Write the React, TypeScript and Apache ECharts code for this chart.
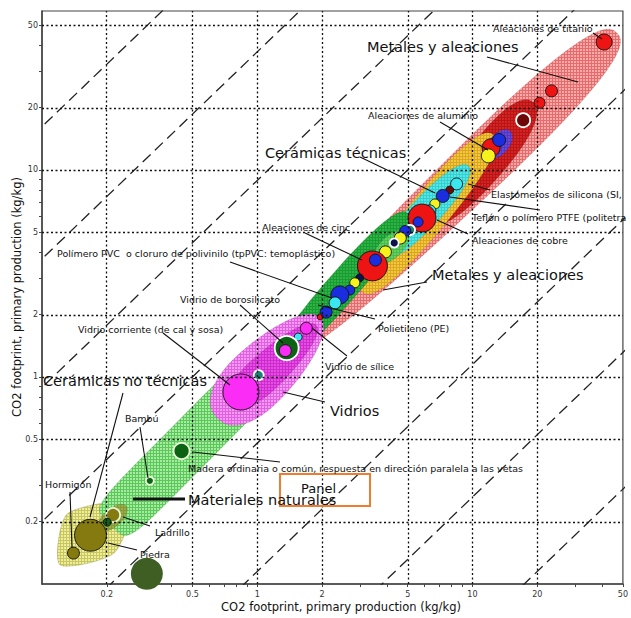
import React, { useEffect, useRef } from "react";
import * as echarts from "echarts";

const L = (v: number) => Math.log10(v);

// ---------- axes ----------
const X_MIN = 0.1;
const X_MAX = 50;
const Y_MIN = 0.1;
const Y_MAX = 58.6;
const majorTicks = [0.2, 0.5, 1, 2, 5, 10, 20, 50];
const minorTicks = [0.3, 0.4, 0.6, 0.7, 0.8, 0.9, 3, 4, 6, 7, 8, 9, 30, 40];
const gridLinesX = [0.2, 0.5, 1, 2, 5, 10, 20];
const gridLinesY = [0.2, 0.5, 1, 2, 5, 10, 20, 50];
// guide lines y = ratio * x
const guideRatios = [162, 37.2, 8.9, 2.0, 0.479, 0.115, 0.0263, 0.00575];

// ---------- bubbles (material data points) ----------
const bubbleX = [40.9, 23.3, 20.5, 17.2, 12.2, 13.3, 11.85, 8.44, 7.84, 7.28, 6.69, 6.34, 5.83, 5.59, 5.13, 4.87, 4.62, 4.33, 3.94, 3.43, 3.54, 2.99, 2.84, 2.69, 2.42, 2.30, 2.09, 1.96, 1.69, 1.55, 1.37, 1.35, 1.016, 0.840, 0.445, 0.317, 0.214, 0.201, 0.168, 0.140, 0.307];
const bubbleY = [41.5, 24.1, 21.1, 17.4, 12.8, 13.96, 11.7, 8.56, 8.0, 7.49, 6.85, 6.34, 5.86, 5.61, 5.13, 5.07, 4.69, 4.44, 4.02, 3.44, 3.67, 3.01, 2.85, 2.63, 2.49, 2.28, 2.06, 1.95, 1.72, 1.56, 1.38, 1.34, 1.02, 0.846, 0.439, 0.315, 0.2155, 0.199, 0.172, 0.141, 0.112];
const bubbleR = [8, 6, 5.5, 7, 9, 6.5, 7, 6, 4, 6.5, 5, 6, 14, 5, 5, 5.5, 6, 4.5, 6, 15, 6, 4, 5, 5, 9, 6, 6, 3, 6, 4, 12, 6, 5, 18, 8, 4, 7, 4, 16, 6, 16];
const bubbleKind = ["red", "red", "red", "darkred", "red", "blue", "yellow", "cyan", "darkred", "blue", "yellow", "cyan", "red", "blue", "teal", "blue", "yellow", "navy", "yellow", "red", "blue", "navy", "yellow", "blue", "blue", "cyan", "blue", "red", "magenta", "cyan", "darkgreen", "magenta", "teal", "magenta", "darkgreen", "darkgreen", "olive", "darkgreen", "olive", "olive", "stone"];
const bubbleRing = [0, 0, 0, 1, 0, 0, 0, 0, 0, 0, 0, 0, 0, 0, 1, 0, 0, 1, 0, 0, 0, 0, 0, 0, 0, 0, 0, 0, 0, 0, 1, 0, 1, 0, 2, 2, 2, 0, 0, 0, 3];

// ---------- envelopes (material families) ----------
const envNames = ["Metales", "Aleaciones alto CO2", "Metales no férreos", "Aluminio", "Cerámicas técnicas", "Polímeros", "Polímeros (núcleo)", "Materiales naturales", "Ladrillo", "Vidrios", "Vidrios (núcleo)"];
const envX1 = [1.40, 6.83, 3.09, 11.85, 3.82, 1.26, 3.54, 0.2076, 0.183, 0.651, 0.755];
const envY1 = [1.35, 5.61, 2.57, 11.56, 3.76, 1.21, 3.59, 0.193, 0.182, 0.634, 0.732];
const envX2 = [46.9, 19.08, 12.5, 14.95, 9.59, 4.97, 4.97, 1.094, 0.246, 1.96, 1.88];
const envY2 = [45.9, 21.3, 14.8, 15.43, 10.45, 6.20, 5.02, 1.105, 0.238, 1.93, 1.78];
const envHalfWidth = [0.127, 0.095, 0.094, 0.047, 0.071, 0.075, 0.052, 0.118, 0.042, 0.142, 0.085];

// Cerámicas no técnicas envelope (vertices)
const ceramX = [0.121, 0.131, 0.257, 0.216];
const ceramY = [0.124, 0.218, 0.244, 0.141];

// ---------- styles ----------
const envRound = [2.6, 2.2, 2.4, 2.0, 2.2, 2.4, 2.0, 6, 2.0, 2.2, 2.2];
const envTaper = [0.15, 0.15, 0, 0, 0, 0, 0, 0, 0, -0.2, -0.2];
const envBase = ["#f6abab", "#d42424", "#f2c93a", "#6a48d8", "#56e6e6", "#2cb445", "#62d062", "#a6eba0", "#9aae44", "#f59af5", "#e64ee6"];
const envHatch = ["#e86a6a", "#b81616", "#dba623", "#5436c0", "#36cfcf", "#1b9a34", "#4cbc4c", "#5cc85c", "#86983a", "#e060e0", "#cc2ccc"];
const kindColor: Record<string, string> = {
  red: "#ee1414", blue: "#1a2ee0", yellow: "#f6f21e", cyan: "#3ae6f0", darkred: "#6e0808",
  navy: "#0c1450", teal: "#1d7f74", magenta: "#fb2cf5", darkgreen: "#0d6314", olive: "#857a10", stone: "#3f5e24",
};

// ---------- annotations ----------
const smallLabels = ["Aleaciones de titanio", "Aleaciones de aluminio", "Elastómeros de silicona (SI,", "Teflón o polímero PTFE (politetra", "Aleaciones de cobre", "Aleaciones de cinc", "Polímero PVC  o cloruro de polivinilo (tpPVC: temoplástico)", "Vidrio de borosilicato", "Vidrio corriente (de cal y sosa)", "Polietileno (PE)", "Vidrio de sílice", "Bambú", "Hormigón", "Madera ordinaria o común, respuesta en dirección paralela a las vetas", "Ladrillo", "Piedra"];
const smallLabelPos = [[493, 28], [368, 115], [491, 194], [472, 217], [472, 240], [262, 227], [57, 253], [180, 299], [78, 329], [378, 328], [325, 366], [125, 418], [45, 484], [188, 468], [155, 532], [140, 554]];
const bigLabels = ["Metales y aleaciones", "Cerámicas técnicas", "Metales y aleaciones", "Cerámicas no técnicas", "Vidrios", "Panel", "Materiales naturales"];
const bigLabelPos = [[367, 47], [265, 153], [432, 275], [43, 381], [330, 411], [301, 488], [188, 500]];
const leaderLines = [[593, 33, 602, 39], [487, 57, 578, 82], [440, 122, 488, 150], [360, 157, 435, 193], [468, 184, 490, 190], [450, 197, 540, 210], [437, 220, 468, 234], [305, 233, 362, 260], [230, 262, 332, 298], [427, 282, 383, 290], [240, 305, 283, 343], [163, 333, 230, 385], [123, 393, 90, 517], [283, 392, 325, 402], [318, 305, 375, 319], [312, 328, 347, 356], [193, 452, 280, 462], [140, 427, 148, 478], [70, 492, 72, 548], [123, 517, 150, 526], [108, 543, 137, 550]];

const FONT = "DejaVu Sans";

function superellipse(p1: number[], p2: number[], b: number, n: number, taper: number, N = 96) {
  const dx = p2[0] - p1[0];
  const dy = p2[1] - p1[1];
  const len = Math.hypot(dx, dy);
  const a = len / 2;
  const ux = dx / len, uy = dy / len;
  const nx = -uy, ny = ux;
  const cx = (p1[0] + p2[0]) / 2, cy = (p1[1] + p2[1]) / 2;
  const pts: number[][] = [];
  for (let k = 0; k < N; k++) {
    const t = (2 * Math.PI * k) / N;
    const c = Math.cos(t), s = Math.sin(t);
    const u = a * Math.sign(c) * Math.pow(Math.abs(c), 2 / n);
    let v = b * Math.sign(s) * Math.pow(Math.abs(s), 2 / n);
    v *= 1 + taper * (u / a);
    pts.push([cx + u * ux + v * nx, cy + u * uy + v * ny]);
  }
  return pts;
}

function makeHatch(base: string, line: string) {
  const c = document.createElement("canvas");
  c.width = 3;
  c.height = 3;
  const ctx = c.getContext("2d")!;
  ctx.fillStyle = base;
  ctx.fillRect(0, 0, 3, 3);
  ctx.fillStyle = line;
  ctx.fillRect(0, 0, 3, 1);
  ctx.fillRect(0, 0, 1, 3);
  return { image: c, repeat: "repeat", imageWidth: 3, imageHeight: 3 } as any;
}

function nearestTick(v: number) {
  let best = majorTicks[0];
  for (const t of majorTicks) if (Math.abs(L(t) - v) < Math.abs(L(best) - v)) best = t;
  return String(best);
}

export default function App() {
  const ref = useRef<HTMLDivElement>(null);
  useEffect(() => {
    document.body.style.margin = "0";
    const chart = echarts.init(ref.current!, null, { renderer: "svg" });
    const fills = envBase.map((b, i) => makeHatch(b, envHatch[i]));
    const ceramFill = makeHatch("#eeee9e", "#c8c65e");

    const guideSeries = guideRatios.map((r, i) => ({
      type: "line",
      z: 1,
      silent: true,
      showSymbol: false,
      symbol: "none",
      clip: true,
      data: [[-1.5, -1.5 + L(r)], [2.2, 2.2 + L(r)]],
      lineStyle: { color: "#222", width: 1.3, type: [11, 6] },
      markLine: i === 0 ? {
        silent: true,
        symbol: "none",
        label: { show: false },
        lineStyle: { color: "#111", width: 1.3, type: [2, 2.5] },
        data: [
          ...gridLinesX.map((v) => ({ xAxis: L(v) })),
          ...gridLinesY.map((v) => ({ yAxis: L(v) })),
        ],
      } : undefined,
    }));

    const option: any = {
      animation: false,
      backgroundColor: "#ffffff",
      grid: { left: 42, right: 2, top: 11, bottom: 34, show: true, borderColor: "#444", borderWidth: 1.2, backgroundColor: "#fff" },
      xAxis: {
        type: "value",
        min: L(X_MIN),
        max: L(X_MAX),
        splitLine: { show: false },
        axisLine: { onZero: false, lineStyle: { color: "#444", width: 1.5 } },
        axisTick: { customValues: [...majorTicks, ...minorTicks].map(L), length: 3, lineStyle: { color: "#444" } },
        axisLabel: { customValues: majorTicks.map(L), formatter: (v: number) => nearestTick(v), fontSize: 8, color: "#333", fontFamily: FONT, margin: 6 },
      },
      yAxis: {
        type: "value",
        min: L(Y_MIN),
        max: L(Y_MAX),
        splitLine: { show: false },
        axisLine: { show: true, onZero: false, lineStyle: { color: "#444", width: 1.5 } },
        axisTick: { show: true, customValues: [...majorTicks, ...minorTicks].map(L), length: 3, lineStyle: { color: "#444" } },
        axisLabel: { customValues: majorTicks.map(L), formatter: (v: number) => nearestTick(v), fontSize: 8, color: "#333", fontFamily: FONT, margin: 4 },
      },
      series: [
        ...guideSeries,
        {
          type: "custom",
          z: 2,
          silent: true,
          data: [[L(ceramX[0]), L(ceramY[0])]],
          renderItem: (params: any, api: any) => {
            const pts = ceramX.map((x, k) => api.coord([L(x), L(ceramY[k])]));
            return { type: "polygon", shape: { points: pts, smooth: 0.25 }, style: { fill: ceramFill, stroke: "rgba(120,120,40,0.4)", lineWidth: 0.8 } };
          },
        },
        {
          type: "custom",
          z: 3,
          silent: true,
          data: envX1.map((x, i) => [L(x), L(envY1[i]), i]),
          encode: { x: 0, y: 1 },
          renderItem: (params: any, api: any) => {
            const i = params.dataIndex;
            const p1 = api.coord([L(envX1[i]), L(envY1[i])]);
            const p2 = api.coord([L(envX2[i]), L(envY2[i])]);
            const sz = api.size([1, 1]);
            const b = (envHalfWidth[i] * (sz[0] + sz[1])) / 2;
            const pts = superellipse(p1, p2, b, envRound[i], envTaper[i]);
            return { type: "polygon", shape: { points: pts }, style: { fill: fills[i], stroke: "rgba(0,0,0,0.12)", lineWidth: 0.8 } };
          },
        },
        {
          type: "scatter",
          z: 4,
          silent: true,
          data: bubbleX.map((x, i) => {
            const ring = bubbleRing[i];
            return {
              value: [L(x), L(bubbleY[i])],
              symbolSize: bubbleR[i] * 2,
              itemStyle: {
                color: kindColor[bubbleKind[i]],
                borderColor: ring === 1 ? "#ffffff" : ring === 2 ? "#e8f8d8" : "#111",
                borderWidth: ring === 3 ? 0 : ring === 0 ? 0.9 : 1.8,
                opacity: 1,
              },
            };
          }),
        },
      ],
      graphic: [
        ...leaderLines.map((l) => ({ type: "line", z: 50, silent: true, shape: { x1: l[0], y1: l[1], x2: l[2], y2: l[3] }, style: { stroke: "#111", lineWidth: 1.1 } })),
        { type: "line", z: 50, silent: true, shape: { x1: 133, y1: 499, x2: 185, y2: 499 }, style: { stroke: "#111", lineWidth: 3 } },
        { type: "rect", z: 50, silent: true, shape: { x: 280, y: 474, width: 90, height: 32 }, style: { fill: "none", stroke: "#ee7d31", lineWidth: 2 } },
        ...smallLabels.map((t, i) => ({
          type: "text", z: 60, silent: true, x: smallLabelPos[i][0], y: smallLabelPos[i][1],
          style: { text: t, fontSize: 9.5, fontFamily: FONT, fill: "#111", align: "left", verticalAlign: "middle", textAlign: "left", textVerticalAlign: "middle" },
        })),
        ...bigLabels.map((t, i) => ({
          type: "text", z: 60, silent: true, x: bigLabelPos[i][0], y: bigLabelPos[i][1],
          style: { text: t, fontSize: t === "Panel" ? 13 : 14.5, fontFamily: FONT, fill: "#111", align: "left", verticalAlign: "middle", textAlign: "left", textVerticalAlign: "middle" },
        })),
        {
          type: "text", z: 60, silent: true, x: 341, y: 607,
          style: { text: "CO2 footprint, primary production (kg/kg)", fontSize: 11.5, fontFamily: FONT, fill: "#111", align: "center", verticalAlign: "middle", textAlign: "center", textVerticalAlign: "middle" },
        },
        {
          type: "text", z: 60, silent: true, x: 17, y: 297, rotation: Math.PI / 2,
          style: { text: "CO2 footprint, primary production (kg/kg)", fontSize: 11.5, fontFamily: FONT, fill: "#111", align: "center", verticalAlign: "middle", textAlign: "center", textVerticalAlign: "middle" },
        },
      ],
    };
    chart.setOption(option);
    return () => chart.dispose();
  }, []);
  return <div ref={ref} style={{ position: "absolute", left: 0, top: 0, width: 631, height: 618, background: "#fff" }} />;
}
